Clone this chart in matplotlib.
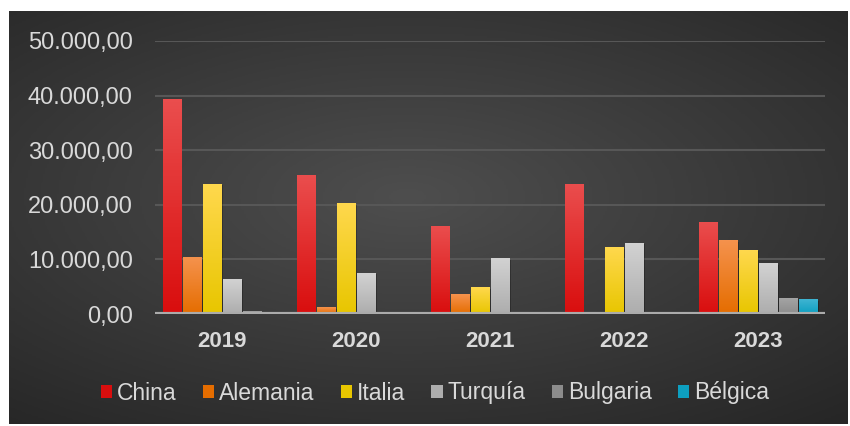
import numpy as np
import matplotlib.pyplot as plt
from matplotlib.colors import LinearSegmentedColormap
from matplotlib.ticker import FuncFormatter

years = ['2019', '2020', '2021', '2022', '2023']
countries = ['China', 'Alemania', 'Italia', 'Turquía', 'Bulgaria', 'Bélgica']
china = [39200, 25300, 16100, 23800, 16700]
alemania = [10400, 1100, 3500, 200, 13500]
italia = [23800, 20300, 4800, 12100, 11700]
turquia = [6400, 7500, 10100, 13000, 9200]
bulgaria = [400, 100, 100, 200, 2900]
belgica = [0, 0, 0, 0, 2600]
series = [china, alemania, italia, turquia, bulgaria, belgica]

# top / bottom gradient colours per country
grad = [('#ea4d4d', '#d90e0e'), ('#f5924d', '#e56d00'), ('#ffd84d', '#e8c600'),
        ('#d2d2d2', '#adadad'), ('#a4a4a4', '#8c8c8c'), ('#3fb4d2', '#0d9fc0')]

plt.rcParams['font.family'] = ['Liberation Sans', 'DejaVu Sans']

fig = plt.figure(figsize=(8.5, 4.26), dpi=100)
fig.patch.set_facecolor('white')

# dark panel with radial gradient
bg = fig.add_axes([9 / 850, 2 / 426, 839 / 850, 413 / 426])
yy, xx = np.mgrid[-1:1:200j, -1:1:400j]
r = np.sqrt(((xx + 0.05) / 1.1) ** 2 + ((yy + 0.1) / 1.0) ** 2)
bg_cmap = LinearSegmentedColormap.from_list('bg', ['#4e4e4e', '#3a3a3a', '#262626'])
bg.imshow(r, cmap=bg_cmap, aspect='auto', extent=[0, 1, 0, 1], vmin=0, vmax=1.45)
bg.axis('off')

ax = fig.add_axes([155 / 850, 112 / 426, 670 / 850, 273 / 426])
ax.patch.set_alpha(0)

x = np.arange(len(years))
step = 0.15
width = 0.135
n = len(series)
for i, (vals, (ctop, cbot)) in enumerate(zip(series, grad)):
    offs = (i - (n - 1) / 2) * step
    cmap = LinearSegmentedColormap.from_list(countries[i], [cbot, ctop])
    bars = ax.bar(x + offs, vals, width, color=cbot, label=countries[i], zorder=3)
    for b in bars:
        h = b.get_height()
        if h <= 0:
            continue
        x0 = b.get_x()
        # soft shadow
        ax.bar(x0 + width / 2 + 0.012, h, width, bottom=-250, color='black',
               alpha=0.25, zorder=2, linewidth=0)
        grad_img = np.linspace(0, 1, 64).reshape(-1, 1)
        ax.imshow(grad_img, cmap=cmap, origin='lower', aspect='auto',
                  extent=[x0, x0 + width, 0, h], zorder=4)

ax.set_xlim(-0.5, 4.5)
ax.set_ylim(0, 50000)
ax.set_yticks(range(0, 50001, 10000))
ax.yaxis.set_major_formatter(FuncFormatter(
    lambda v, p: f'{v:,.2f}'.replace(',', 'X').replace('.', ',').replace('X', '.')))
ax.grid(axis='y', color='#575757', linewidth=1.5, zorder=0)
ax.axhline(0, color='#ababab', linewidth=3, zorder=5)
for s in ax.spines.values():
    s.set_visible(False)
ax.tick_params(axis='y', length=0, colors='#d9d9d9', labelsize=17, pad=16)
ax.tick_params(axis='x', length=0, colors='#d9d9d9', labelsize=16, pad=12)
ax.set_xticks(x)
ax.set_xticklabels(years, fontweight='bold')

leg = ax.legend(loc='center', bbox_to_anchor=(435 / 850, 33 / 426),
                bbox_transform=fig.transFigure, ncol=6, frameon=False,
                fontsize=16.5, handlelength=0.5, handleheight=0.5,
                handletextpad=0.2, columnspacing=1.15, labelcolor='#d9d9d9')

fig.savefig('out.png', dpi=100, facecolor='white')
